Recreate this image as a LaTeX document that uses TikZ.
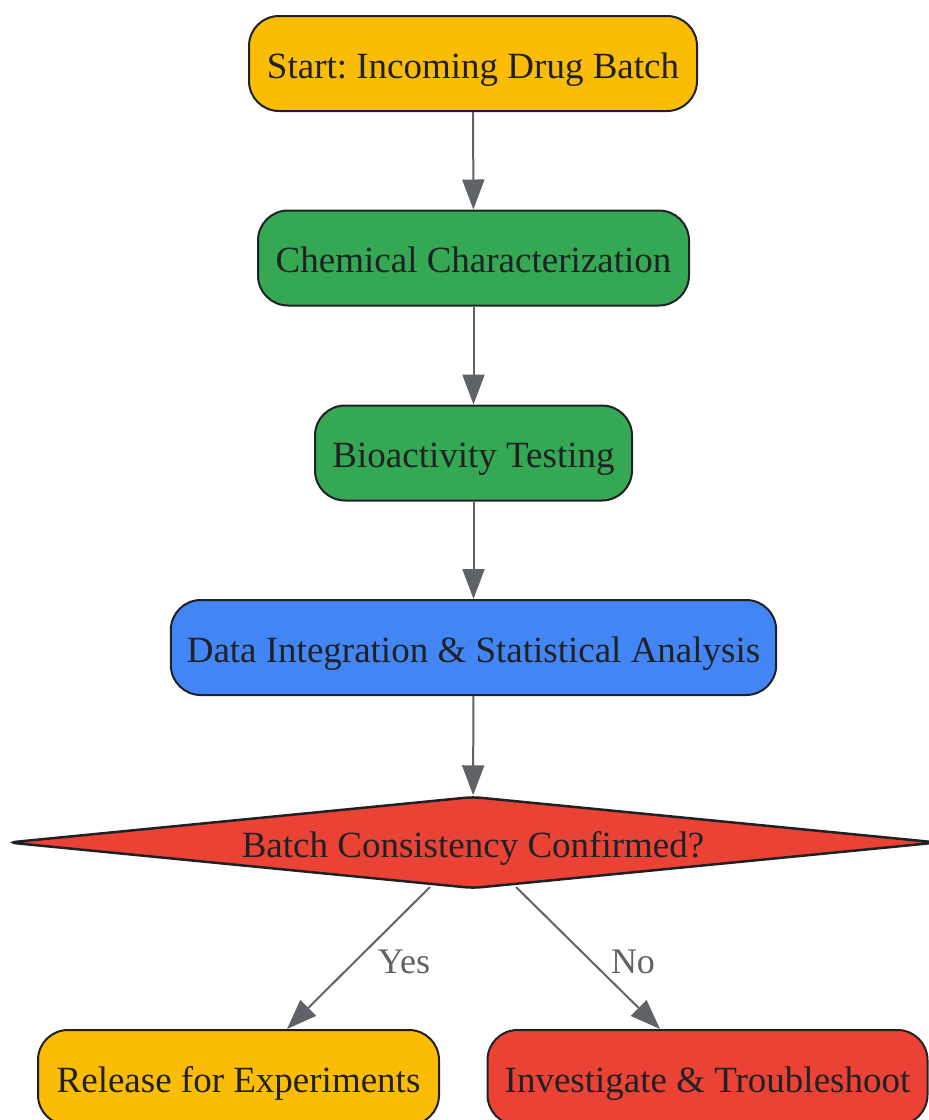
\documentclass[tikz,border=0pt]{standalone}
\usepackage{fontspec}
\setmainfont{Liberation Serif}
\usetikzlibrary{shapes.geometric,arrows.meta}
\definecolor{gyellow}{HTML}{FBBC04}
\definecolor{ggreen}{HTML}{34A853}
\definecolor{gblue}{HTML}{4285F4}
\definecolor{gred}{HTML}{EA4335}
\definecolor{edgegray}{HTML}{5F6368}
\definecolor{ink}{HTML}{202124}
\frenchspacing
\tikzset{
  box/.style={draw=ink, line width=2pt, rounded corners=30pt, minimum height=95pt,
    inner xsep=16pt, text=ink, text height=29pt, text depth=0pt,
    font=\fontsize{37}{44}\selectfont},
  decision/.style={draw=ink, line width=2.5pt, shape=diamond, aspect=10, inner sep=0pt,
    minimum width=930pt, minimum height=92pt, rounded corners=8pt, text=ink,
    text height=29pt, text depth=0pt, font=\fontsize{37}{44}\selectfont},
  arr/.style={draw=edgegray, line width=2pt, -{Triangle[length=30pt,width=22pt]}},
  elabel/.style={text=edgegray, font=\fontsize{36}{42}\selectfont, inner sep=0pt}
}
\begin{document}
\begin{tikzpicture}[x=1pt,y=-1pt]
\useasboundingbox (0,0) rectangle (929,1120);
\node[box, fill=gyellow, minimum width=448pt] (start) at (473,63.5) {Start: Incoming Drug Batch};
\node[box, fill=ggreen, minimum width=431pt] (chem) at (473.5,258) {Chemical Characterization};
\node[box, fill=ggreen, minimum width=317pt] (bio) at (473.5,453) {Bioactivity Testing};
\node[box, fill=gblue, minimum width=605pt] (data) at (473.5,647.5) {Data Integration \& Statistical Analysis};
\node[decision, fill=gred] (dec) at (473,842.5) {Batch Consistency Confirmed?};
\node[box, fill=gyellow, minimum width=401pt] (rel) at (238.5,1077.5) {Release for Experiments};
\node[box, fill=gred, minimum width=440pt] (inv) at (707.5,1077.5) {Investigate \& Troubleshoot};
\coordinate (ys) at (430,887);
\coordinate (ns) at (516,887);
\draw[arr] (start) -- (chem);
\draw[arr] (chem) -- (bio);
\draw[arr] (bio) -- (data);
\draw[arr] (data) -- (dec);
\draw[arr] (ys) -- ([xshift=48.5pt]rel.north);
\draw[arr] (ns) -- ([xshift=-47.5pt]inv.north);
\node[elabel] (yes) at (404,962) {Yes};
\node[elabel] (no) at (633,962) {No};
\end{tikzpicture}
\end{document}
